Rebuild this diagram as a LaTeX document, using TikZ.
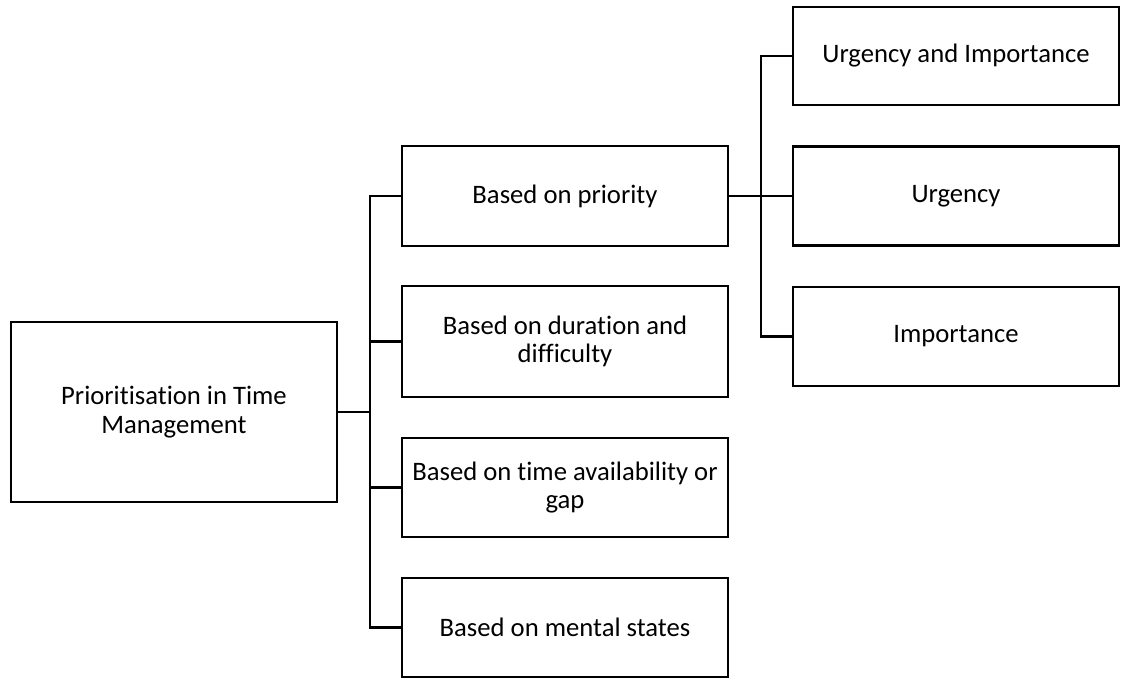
\documentclass[tikz,border=0pt]{standalone}
\usepackage{fontspec}
\setmainfont{Carlito}[RawFeature={-liga;-clig;-dlig;-calt}]
\begin{document}
\begin{tikzpicture}[x=0.75pt,y=-0.75pt,
  box/.style={draw, line width=1.8pt, inner sep=0pt, outer sep=0pt,
    minimum width=244.5pt, align=center,
    font=\fontsize{20}{21.5}\selectfont},
  link/.style={line width=1.6pt}]
\useasboundingbox (0,0) rectangle (1122,678);

% root
\node[box, minimum height=135pt] (root) at (174,412) {Prioritisation in Time\\Management};

% second level
\node[box, minimum height=75pt]    (pri)  at (565,196)   {Based on priority};
\node[box, minimum height=83.25pt] (dur)  at (565,341.5) {Based on duration and\\difficulty};
\node[box, minimum height=74.25pt] (gap)  at (565,487.5) {Based on time availability or\\gap};
\node[box, minimum height=74.25pt] (ment) at (565,627.5) {Based on mental states};

% third level
\node[box, minimum height=73.5pt]  (ui)  at (956,56)  {Urgency and Importance};
\node[box, minimum height=74.25pt] (urg) at (956,196) {Urgency};
\node[box, minimum height=74.25pt] (imp) at (956,336.5) {Importance};

% trunks
\coordinate (trunk) at (370,0);
\coordinate (rtrunk) at (761,0);

% connectors root -> second level
\draw[link, line width=2.2pt] (root.east) -- (root.east -| trunk);
\draw[link] (pri.west) -- (pri.west -| trunk) |- (ment.west);
\draw[link] (dur.west) -- (dur.west -| trunk);
\draw[link] (gap.west) -- (gap.west -| trunk);

% connectors priority -> third level
\draw[link] (pri.east) -- (urg.west);
\draw[link] (ui.west) -- (ui.west -| rtrunk) |- (imp.west);
\end{tikzpicture}
\end{document}
